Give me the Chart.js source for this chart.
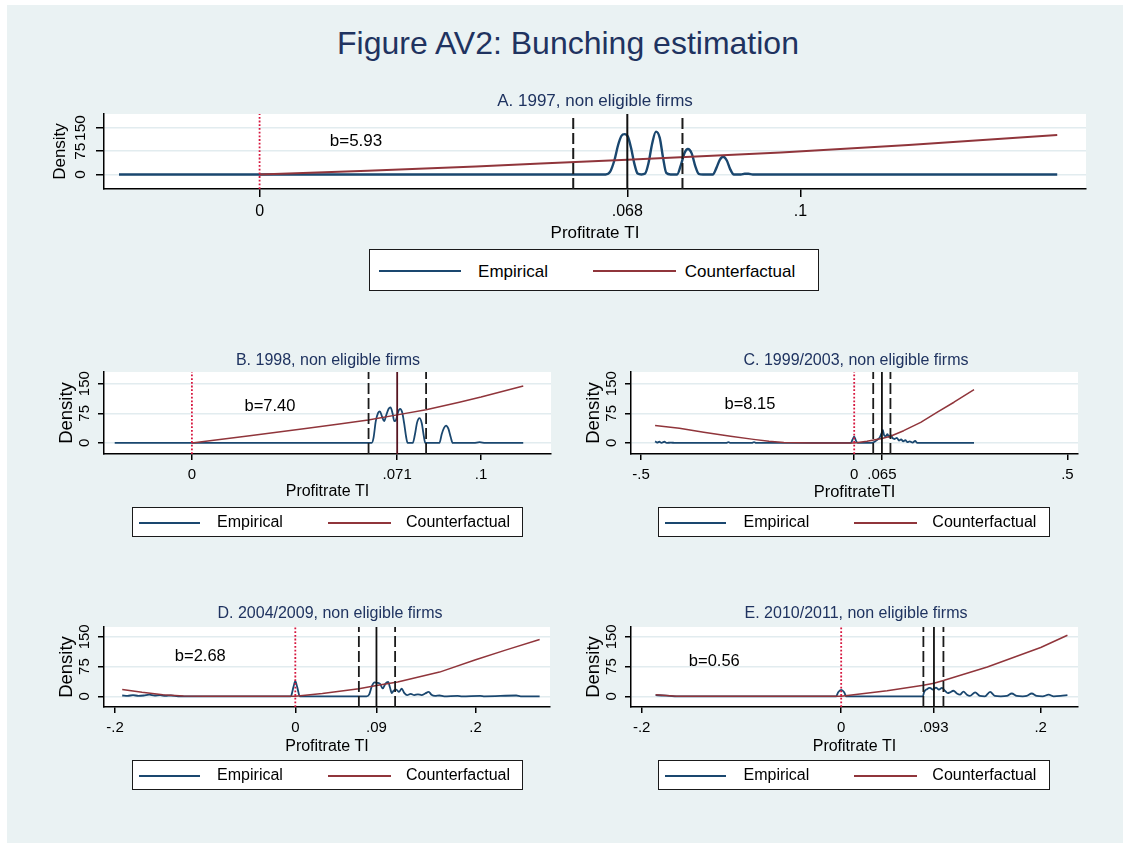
<!DOCTYPE html>
<html>
<head>
<meta charset="utf-8">
<title>Figure AV2: Bunching estimation</title>
<script src="https://cdn.jsdelivr.net/npm/chart.js@4/dist/chart.umd.min.js"></script>
<style>
  html, body { margin: 0; padding: 0; background: #ffffff; width: 1123px; height: 843px; overflow: hidden; }
  #page { position: absolute; left: 7px; top: 5px; width: 1116px; height: 838px; background: #eaf2f3; }
  canvas { position: absolute; z-index: 1; }
  .txt { position: absolute; z-index: 3; font-family: Arial, "Liberation Sans", Helvetica, sans-serif; white-space: nowrap;
         line-height: 1; transform: translate(-50%, -50%); color: #000; }
  .ttl { color: #1f3360; }
  .legend { position: absolute; z-index: 2; background: #fff; border: 1px solid #1a1a1a; box-sizing: border-box; }
  .legline { position: absolute; height: 2px; }
</style>
</head>
<body>
<div id="page"></div>
<script>
// ---------- data ----------
// x ticks and labels per panel
const xTicks97 = [0, 0.068, 0.1];          const xLabels97 = ['0', '.068', '.1'];
const xTicks98 = [0, 0.071, 0.1];          const xLabels98 = ['0', '.071', '.1'];
const xTicks9903 = [-0.5, 0, 0.065, 0.5];  const xLabels9903 = ['-.5', '0', '.065', '.5'];
const xTicks0409 = [-0.2, 0, 0.09, 0.2];   const xLabels0409 = ['-.2', '0', '.09', '.2'];
const xTicks1011 = [-0.2, 0, 0.093, 0.2];  const xLabels1011 = ['-.2', '0', '.093', '.2'];
const yTicks = [0, 75, 150];               const yLabels = ['0', '75', '150'];

// lower bound, kink, upper bound of the excluded window
const window97 = [0.058, 0.068, 0.0782];
const window98 = [0.0611, 0.071, 0.081];
const window9903 = [0.0446, 0.065, 0.085];
const window0409 = [0.0705, 0.09, 0.1107];
const window1011 = [0.0824, 0.093, 0.1025];

// bunching estimates
const b97 = '5.93', b98 = '7.40', b9903 = '8.15', b0409 = '2.68', b1011 = '0.56';

// empirical densities [profit rate, density]
const emp97 = [[-0.026,0],[0.0640,0],[0.0648,8],[0.0656,45],[0.0663,95],[0.0669,124],[0.0675,130],[0.0681,122],
  [0.0687,85],[0.0693,35],[0.0699,3],[0.0706,0],[0.0713,3],[0.0719,35],[0.0726,100],[0.0733,138],[0.0740,118],
  [0.0746,55],[0.0752,5],[0.0760,0],[0.0772,0],[0.0779,30],[0.0786,70],[0.0792,82],[0.0799,68],[0.0806,25],
  [0.0812,2],[0.0820,0],[0.0838,0],[0.0845,22],[0.0851,47],[0.0857,57],[0.0864,45],[0.0870,18],[0.0877,0],
  [0.0890,0],[0.0897,2],[0.0904,2],[0.0912,0],[0.1475,0]];
const cf97 = [[0,0],[0.02,12],[0.04,26],[0.052,35],[0.068,47],[0.0964,71],[0.12,95],[0.1475,127]];

const emp98 = [[-0.0267,0],[0.0622,0],[0.0628,12],[0.0636,55],[0.0644,76],[0.0650,80],[0.0657,68],[0.0665,55],
  [0.0672,70],[0.0680,86],[0.0687,90],[0.0694,75],[0.0700,55],[0.0706,58],[0.0713,78],[0.0720,86],[0.0727,78],
  [0.0734,50],[0.0741,15],[0.0746,0],[0.0764,0],[0.0771,20],[0.0779,52],[0.0787,63],[0.0795,50],[0.0802,18],
  [0.0807,0],[0.0856,0],[0.0864,22],[0.0872,38],[0.0879,44],[0.0887,36],[0.0895,15],[0.0902,0],[0.0975,0],
  [0.0995,2],[0.1015,0],[0.1146,0]];
const cf98 = [[0,0],[0.02,18],[0.04,37],[0.051,48],[0.061,58],[0.071,71],[0.081,84],[0.0925,103],[0.1,116],[0.1146,144]];

const emp9903 = [[-0.467,4],[-0.462,1],[-0.457,3],[-0.452,0],[-0.445,3],[-0.44,0],[-0.43,1],[-0.42,0],[-0.3,0],
  [-0.295,2],[-0.29,0],[-0.24,0],[-0.235,2],[-0.23,0],[-0.15,0],[-0.008,0],[-0.004,8],[0,16],[0.004,6],[0.008,0],
  [0.04,0],[0.048,3],[0.054,8],[0.06,14],[0.064,24],[0.067,33],[0.07,20],[0.074,17],[0.078,22],[0.082,15],
  [0.086,20],[0.09,12],[0.095,10],[0.1,13],[0.105,6],[0.11,9],[0.115,4],[0.12,7],[0.125,2],[0.13,4],[0.137,1],
  [0.143,5],[0.148,0],[0.281,0]];
const cf9903 = [[-0.467,44],[-0.41,37],[-0.353,27],[-0.29,17],[-0.236,9],[-0.2,4],[-0.165,1],[-0.1,0],[0,0],
  [0.03,4],[0.065,11],[0.085,17],[0.116,31],[0.156,52],[0.195,78],[0.234,103],[0.281,135]];

const emp0409 = [[-0.192,2],[-0.186,1],[-0.18,3],[-0.174,1],[-0.168,2],[-0.162,4],[-0.156,2],[-0.15,3],[-0.144,1],
  [-0.138,2],[-0.13,0],[-0.005,0],[-0.002,24],[0,38],[0.002,24],[0.005,0],[0.079,0],[0.082,5],[0.085,26],
  [0.088,35],[0.091,34],[0.094,31],[0.097,20],[0.1,32],[0.103,36],[0.105,22],[0.107,8],[0.109,14],[0.112,17],
  [0.115,11],[0.118,19],[0.121,8],[0.124,3],[0.128,6],[0.132,3],[0.136,5],[0.14,3],[0.144,7],[0.148,11],
  [0.151,4],[0.155,1],[0.16,2],[0.165,0],[0.18,1],[0.185,0],[0.205,1],[0.21,0],[0.245,2],[0.25,0],[0.271,0]];
const cf0409 = [[-0.192,17],[-0.17,10],[-0.147,4],[-0.124,1],[-0.1,0],[0,0],[0.03,7],[0.0705,19],[0.09,27],
  [0.1135,36],[0.16,61],[0.2,92],[0.234,117],[0.271,143]];

const emp1011 = [[-0.186,3],[-0.18,2],[-0.172,1],[-0.165,0],[-0.005,0],[-0.003,10],[0,16],[0.003,10],[0.005,0],
  [0.082,0],[0.083,10],[0.086,18],[0.089,21],[0.092,17],[0.095,22],[0.098,17],[0.101,21],[0.104,14],[0.107,8],
  [0.109,10],[0.1125,14],[0.116,7],[0.119,4],[0.1226,12],[0.126,4],[0.129,1],[0.1343,10],[0.139,1],[0.144,0],
  [0.1493,11],[0.154,1],[0.16,0],[0.166,1],[0.171,7],[0.176,1],[0.182,0],[0.186,1],[0.191,7],[0.196,1],
  [0.202,0],[0.208,4],[0.213,0],[0.22,1],[0.2268,3]];
const cf1011 = [[-0.186,4],[-0.165,0],[0,0],[0.046,14],[0.0824,28],[0.093,33],[0.1025,40],[0.1465,74],[0.2,123],[0.2268,154]];

// ---------- styling ----------
const FONT = 'Arial, "Liberation Sans", Helvetica, sans-serif';
const BLUE = '#1a476f', RED = '#90353b', CUTRED = '#d6173f';

const plotBg = {
  id: 'plotBg',
  beforeDraw(chart) {
    const { ctx, chartArea: a } = chart;
    ctx.save();
    ctx.fillStyle = '#ffffff';
    ctx.fillRect(a.left, a.top, a.right - a.left, a.bottom - a.top);
    ctx.restore();
  }
};

function pts(arr) { return arr.map(p => ({ x: p[0], y: p[1] })); }

function addText(text, cx, cy, size, cls) {
  const d = document.createElement('div');
  d.className = 'txt' + (cls ? ' ' + cls : '');
  d.textContent = text;
  d.style.left = cx + 'px';
  d.style.top = cy + 'px';
  d.style.fontSize = size + 'px';
  document.body.appendChild(d);
}

function addLegend(g) {
  const box = document.createElement('div');
  box.className = 'legend';
  Object.assign(box.style, { left: g.left + 'px', top: g.top + 'px', width: g.width + 'px', height: g.height + 'px' });
  document.body.appendChild(box);
  const line = (x1, x2, color) => {
    const l = document.createElement('div');
    l.className = 'legline';
    Object.assign(l.style, { left: Math.round(x1) + 'px', top: Math.round(g.lineY - 1) + 'px',
      width: Math.round(x2 - x1) + 'px', background: color });
    box.appendChild(l);
  };
  line(g.blue[0], g.blue[1], BLUE);
  line(g.red[0], g.red[1], RED);
  addText('Empirical', g.left + g.t1, g.top + g.textY, g.font);
  addText('Counterfactual', g.left + g.t2, g.top + g.textY, g.font);
}

function panel(s) {
  const cv = document.createElement('canvas');
  const left = s.L - s.W - s.pad, top = s.T - s.pad;
  const w = Math.round(s.R - s.L + s.W + 2 * s.pad), h = Math.round(s.B - s.T + s.H + 2 * s.pad);
  cv.width = w; cv.height = h;
  Object.assign(cv.style, { left: left + 'px', top: top + 'px', width: w + 'px', height: h + 'px' });
  document.body.appendChild(cv);

  const [lo, mid, hi] = s.win;
  const vline = x => [{ x, y: s.ymin }, { x, y: s.ymax }];
  const dash = [11, 4];

  new Chart(cv, {
    type: 'line',
    data: {
      datasets: [
        { data: vline(lo), borderColor: '#1b1b1b', borderWidth: s.vw, borderDash: dash, order: 0 },
        { data: vline(mid), borderColor: s.midColor || '#111111', borderWidth: s.vw, order: 0 },
        { data: vline(hi), borderColor: '#1b1b1b', borderWidth: s.vw, borderDash: dash, order: 0 },
        { data: vline(0), borderColor: CUTRED, borderWidth: 1.8, borderDash: [1.8, 1.9], order: 0 },
        { data: pts(s.cf), borderColor: RED, borderWidth: s.cw, order: 1 },
        { data: pts(s.emp), borderColor: BLUE, borderWidth: s.ew, cubicInterpolationMode: 'monotone', order: 2 }
      ]
    },
    options: {
      responsive: false,
      animation: false,
      devicePixelRatio: 1,
      layout: { padding: s.pad },
      elements: {
        point: { radius: 0, hoverRadius: 0 },
        line: { tension: 0, fill: false, borderCapStyle: 'butt', borderJoinStyle: 'round' }
      },
      plugins: { legend: { display: false }, tooltip: { enabled: false }, title: { display: false } },
      events: [],
      scales: {
        x: {
          type: 'linear', position: 'bottom', min: s.xmin, max: s.xmax,
          afterBuildTicks: sc => { sc.ticks = s.xt.map(v => ({ value: v })); },
          afterFit: sc => { sc.height = s.H; },
          ticks: {
            autoSkip: false, maxRotation: 0, minRotation: 0, padding: s.xtp, color: '#000',
            font: { family: FONT, size: s.xtf },
            callback: (v, i) => s.xl[i]
          },
          grid: { drawOnChartArea: false, drawTicks: true, tickLength: s.tl, tickColor: '#000', lineWidth: 1.5 },
          border: { display: true, color: '#000', width: 1.5 },
          title: { display: true, text: s.xtitle, color: '#000', font: { family: FONT, size: s.xtitf }, padding: { top: 0, bottom: s.xtitp } }
        },
        y: {
          type: 'linear', position: 'left', min: s.ymin, max: s.ymax,
          afterBuildTicks: sc => { sc.ticks = yTicks.map(v => ({ value: v })); },
          afterFit: sc => { sc.width = s.W; },
          ticks: {
            autoSkip: false, minRotation: 90, maxRotation: 90, crossAlign: 'center', padding: s.ytp, color: '#000',
            font: { family: FONT, size: s.ytf },
            callback: (v, i) => yLabels[i]
          },
          grid: { color: '#e2ecef', lineWidth: 1.5, drawTicks: true, tickLength: s.tl, tickColor: '#000', tickWidth: 1.5 },
          border: { display: true, color: '#000', width: 1.5 },
          title: { display: true, text: 'Density', color: '#000', font: { family: FONT, size: s.ytitf }, padding: { top: s.ytitp, bottom: 0 } }
        }
      }
    },
    plugins: [plotBg]
  });
}

// ---------- figure ----------
addText('Figure AV2: Bunching estimation', 568, 43, 32, 'ttl');

// A. 1997
panel({ L: 103.5, T: 113.5, R: 1085, B: 188, W: 60, H: 60, pad: 12,
  xmin: -0.02877, xmax: 0.15282, ymin: -47, ymax: 195,
  xt: xTicks97, xl: xLabels97, win: window97, emp: emp97, cf: cf97,
  tl: 8, xtf: 16, xtp: 4.7, ytf: 15.5, ytp: 2.6, xtitle: 'Profitrate TI', xtitf: 17, xtitp: 5.3, ytitf: 17, ytitp: 6.3,
  ew: 2.4, cw: 2, vw: 2 });
addText('A. 1997, non eligible firms', 595, 100, 17, 'ttl');
addText('b=' + b97, 356, 140, 17);
addLegend({ left: 369, top: 249, width: 450, height: 42, lineY: 20.5, textY: 22, blue: [9, 91], red: [222.7, 306], t1: 144, t2: 371, font: 17 });

// B. 1998
panel({ L: 104.3, T: 371.7, R: 551.7, B: 453.3, W: 55, H: 50, pad: 12,
  xmin: -0.0304, xmax: 0.1242, ymin: -28, ymax: 179.5,
  xt: xTicks98, xl: xLabels98, win: window98, emp: emp98, cf: cf98, midColor: '#561420',
  tl: 6, xtf: 15, xtp: 5.7, ytf: 15, ytp: 0.3, xtitle: 'Profitrate TI', xtitf: 16, xtitp: 2.9, ytitf: 18.5, ytitp: 7.1,
  ew: 1.8, cw: 1.5, vw: 1.8 });
addText('B. 1998, non eligible firms', 328, 360, 16, 'ttl');
addText('b=' + b98, 270, 405, 16.5);
addLegend({ left: 131.7, top: 506.7, width: 391.6, height: 30, lineY: 14.5, textY: 15, blue: [6.3, 67.3], red: [195, 257.6], t1: 118.3, t2: 326.3, font: 16 });

// C. 1999/2003
panel({ L: 630.7, T: 371.7, R: 1077.3, B: 453.3, W: 55, H: 50, pad: 12,
  xmin: -0.5235, xmax: 0.5249, ymin: -28, ymax: 179.5,
  xt: xTicks9903, xl: xLabels9903, win: window9903, emp: emp9903, cf: cf9903,
  tl: 6, xtf: 15, xtp: 5.7, ytf: 15, ytp: 0.3, xtitle: 'ProfitrateTI', xtitf: 16.5, xtitp: 1.7, ytitf: 18.5, ytitp: 7.1,
  ew: 1.8, cw: 1.5, vw: 1.8 });
addText('C. 1999/2003, non eligible firms', 856, 360, 16, 'ttl');
addText('b=' + b9903, 750, 403.3, 16.5);
addLegend({ left: 658.1, top: 506.7, width: 391.6, height: 30, lineY: 14.5, textY: 15, blue: [6.3, 67.3], red: [195, 257.6], t1: 118.3, t2: 326.3, font: 16 });

// D. 2004/2009
panel({ L: 104.3, T: 626.7, R: 550, B: 706.7, W: 55, H: 55, pad: 12,
  xmin: -0.2122, xmax: 0.2825, ymin: -27, ymax: 174.7,
  xt: xTicks0409, xl: xLabels0409, win: window0409, emp: emp0409, cf: cf0409,
  tl: 6, xtf: 15, xtp: 5.5, ytf: 15, ytp: 0.3, xtitle: 'Profitrate TI', xtitf: 16, xtitp: 5.4, ytitf: 18.5, ytitp: 7.1,
  ew: 1.8, cw: 1.5, vw: 1.8 });
addText('D. 2004/2009, non eligible firms', 330, 613.3, 16, 'ttl');
addText('b=' + b0409, 200.3, 655, 16.5);
addLegend({ left: 131.7, top: 759.5, width: 391.6, height: 30, lineY: 14.5, textY: 15, blue: [6.3, 67.3], red: [195, 257.6], t1: 118.3, t2: 326.3, font: 16 });

// E. 2010/2011
panel({ L: 630.7, T: 626.7, R: 1077.3, B: 706.7, W: 55, H: 55, pad: 12,
  xmin: -0.2107, xmax: 0.2374, ymin: -27, ymax: 174.7,
  xt: xTicks1011, xl: xLabels1011, win: window1011, emp: emp1011, cf: cf1011,
  tl: 6, xtf: 15, xtp: 5.5, ytf: 15, ytp: 0.3, xtitle: 'Profitrate TI', xtitf: 16, xtitp: 5.4, ytitf: 18.5, ytitp: 7.1,
  ew: 1.8, cw: 1.5, vw: 1.8 });
addText('E. 2010/2011, non eligible firms', 856, 613.3, 16, 'ttl');
addText('b=' + b1011, 714.3, 660.3, 16.5);
addLegend({ left: 658.1, top: 759.5, width: 391.6, height: 30, lineY: 14.5, textY: 15, blue: [6.3, 67.3], red: [195, 257.6], t1: 118.3, t2: 326.3, font: 16 });
</script>
</body>
</html>
